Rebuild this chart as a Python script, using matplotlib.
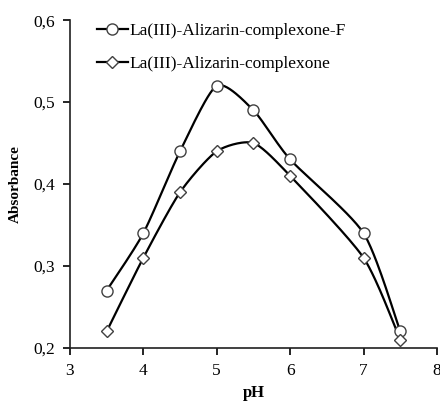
import numpy as np
import matplotlib.pyplot as plt

plt.rcParams['font.family'] = ['Liberation Serif', 'DejaVu Serif']

ph = [3.5, 4, 4.5, 5, 5.5, 6, 7, 7.5]
abs_f = [0.27, 0.34, 0.44, 0.52, 0.49, 0.43, 0.34, 0.22]
abs_c = [0.22, 0.31, 0.39, 0.44, 0.45, 0.41, 0.31, 0.21]
labels = ["La(III)-Alizarin-complexone-F", "La(III)-Alizarin-complexone"]


def smooth(x, y, n=30, k=0.7):
    # smoothed line through the points (bezier, reduced tangents)
    x = np.asarray(x, float)
    y = np.asarray(y, float)
    px = np.concatenate([[x[0]], x, [x[-1]]])
    py = np.concatenate([[y[0]], y, [y[-1]]])
    xs, ys = [], []
    t = np.linspace(0, 1, n)
    for i in range(1, len(px) - 2):
        for p, out in ((px, xs), (py, ys)):
            p0, p1, p2, p3 = p[i - 1], p[i], p[i + 1], p[i + 2]
            c1 = p1 + k * (p2 - p0) / 6
            c2 = p2 - k * (p3 - p1) / 6
            out.extend((1 - t) ** 3 * p1 + 3 * (1 - t) ** 2 * t * c1
                       + 3 * (1 - t) * t ** 2 * c2 + t ** 3 * p2)
    return xs, ys


fig = plt.figure(figsize=(4.4, 4.04), dpi=100)
ax = fig.add_axes([0.159, 0.139, 0.834, 0.811])

for y, m, lab in ((abs_f, 'o', labels[0]), (abs_c, 'D', labels[1])):
    ms = 8 if m == 'o' else 6
    sx, sy = smooth(ph, y)
    ax.plot(sx, sy, color='black', lw=1.6, zorder=2)
    ax.plot(ph, y, ls='none', marker=m, ms=ms,
            mfc='white', mec='#404040', mew=1, zorder=3)
    ax.plot([], [], color='black', lw=1.6, marker=m, ms=ms,
            mfc='white', mec='#404040', mew=1, label=lab)

ax.set_xlim(3, 8)
ax.set_ylim(0.2, 0.6)
ax.set_xticks([3, 4, 5, 6, 7, 8])
ax.set_yticks([0.2, 0.3, 0.4, 0.5, 0.6])
ax.set_yticklabels(['0,2', '0,3', '0,4', '0,5', '0,6'])
ax.spines['top'].set_visible(False)
ax.spines['right'].set_visible(False)
for s in ('left', 'bottom'):
    ax.spines[s].set_linewidth(1.2)
    ax.spines[s].set_color('#202020')
ax.tick_params(direction='out', length=5, width=1.2, labelsize=12.5,
               colors='black', pad=6)
ax.set_xlabel('pH', fontsize=12, fontweight='bold', labelpad=4)
ax.set_ylabel('Absorbance', fontsize=11, fontweight='bold', labelpad=8)
ax.legend(loc='upper left', bbox_to_anchor=(0.03, 1.04), frameon=False,
          fontsize=12.5, handlelength=1.8, handletextpad=0.1, labelspacing=1.0)

fig.savefig('out.png', dpi=100)
